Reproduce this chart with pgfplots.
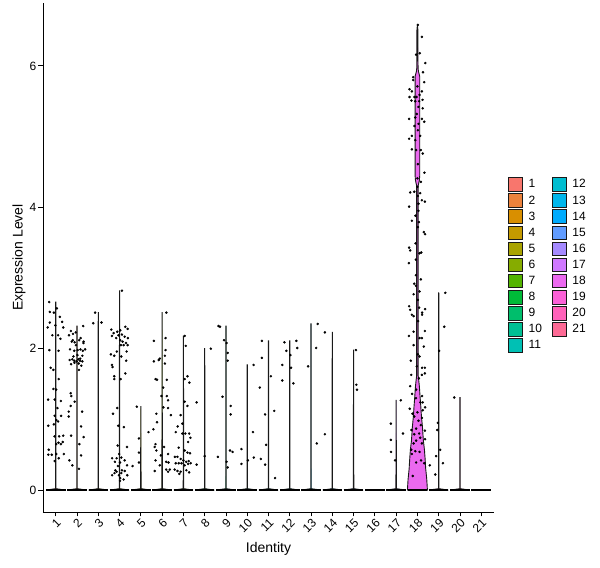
\documentclass[border=0pt]{standalone}
\usepackage{pgfplots}
\pgfplotsset{compat=1.18}
\usepackage{fontspec}
\setmainfont{Liberation Sans}
\definecolor{c1}{HTML}{F8766D}
\definecolor{c2}{HTML}{EC823C}
\definecolor{c3}{HTML}{D98F00}
\definecolor{c4}{HTML}{C49A00}
\definecolor{c5}{HTML}{A9A300}
\definecolor{c6}{HTML}{86AC00}
\definecolor{c7}{HTML}{53B400}
\definecolor{c8}{HTML}{00BA38}
\definecolor{c9}{HTML}{00BE6C}
\definecolor{c10}{HTML}{00C094}
\definecolor{c11}{HTML}{00C0B4}
\definecolor{c12}{HTML}{00BDD0}
\definecolor{c13}{HTML}{00B6EB}
\definecolor{c14}{HTML}{00ABFD}
\definecolor{c15}{HTML}{619CFF}
\definecolor{c16}{HTML}{A58AFF}
\definecolor{c17}{HTML}{CF78FF}
\definecolor{c18}{HTML}{EB69EF}
\definecolor{c19}{HTML}{FB61D7}
\definecolor{c20}{HTML}{FF62BA}
\definecolor{c21}{HTML}{FD6A95}
\begin{document}
\begin{tikzpicture}
\begin{axis}[
 name=ax,
 scale only axis,
 width=451pt, height=509pt,
 xmin=0.4, xmax=21.6, ymin=-0.31, ymax=6.89,
 axis x line*=bottom, axis y line*=left,
 axis line style={black, line width=0.9pt, -},
 xtick={1,...,21}, ytick={0,2,4,6},
 tick align=outside, major tick length=4.5pt,
 tick style={black, line width=0.9pt},
 /pgf/number format/assume math mode=true,
 ticklabel style={font=\fontsize{12}{12}\selectfont, text=black},
 xticklabel style={rotate=45, anchor=north east, inner sep=1pt},
 yticklabel style={inner sep=2pt},
 xlabel={Identity}, ylabel={Expression Level},
 label style={font=\fontsize{14}{14}\selectfont},
 xlabel style={at={(axis description cs:0.5,-0.0727)}, anchor=center},
 ylabel style={at={(axis description cs:-0.0532,0.5)}, anchor=center},
 legend columns=2,
 legend cell align=left,
 legend style={draw=none, fill=none, at={(1.031,0.658)}, anchor=north west,
   inner sep=0pt, font=\fontsize{12}{12}\selectfont, row sep=1.7pt,
   nodes={inner sep=1pt},
   /tikz/every odd column/.append style={column sep=5pt},
   /tikz/every even column/.append style={column sep=9pt}},
 legend image code/.code={\draw[#1, line width=0.8pt] (0pt,-6.8pt) rectangle (13.6pt,6.8pt);},
 violin/.style={draw=black!90, line width=0.9pt, mark=none},
]
% violins (order interleaved so that the two legend columns read 1-11 and 12-21)
\addplot[violin, fill=c1] coordinates {(0.55,0) (0.99,0.02) (0.995,2.66) (1.005,2.66) (1.01,0.02) (1.45,0) (0.55,0)};
\addlegendentry{1}
\addplot[violin, fill=c12] coordinates {(11.55,0) (11.99,0.02) (11.995,2.11) (12.005,2.11) (12.01,0.02) (12.45,0) (11.55,0)};
\addlegendentry{12}
\addplot[violin, fill=c2] coordinates {(1.55,0) (1.99,0.02) (1.995,2.32) (2.005,2.32) (2.01,0.02) (2.45,0) (1.55,0)};
\addlegendentry{2}
\addplot[violin, fill=c13] coordinates {(12.55,0) (12.99,0.02) (12.995,2.35) (13.005,2.35) (13.01,0.02) (13.45,0) (12.55,0)};
\addlegendentry{13}
\addplot[violin, fill=c3] coordinates {(2.55,0) (2.99,0.02) (2.995,2.51) (3.005,2.51) (3.01,0.02) (3.45,0) (2.55,0)};
\addlegendentry{3}
\addplot[violin, fill=c14] coordinates {(13.55,0) (13.99,0.02) (13.995,2.23) (14.005,2.23) (14.01,0.02) (14.45,0) (13.55,0)};
\addlegendentry{14}
\addplot[violin, fill=c4] coordinates {(3.55,0) (3.99,0.02) (3.995,2.82) (4.005,2.82) (4.01,0.02) (4.45,0) (3.55,0)};
\addlegendentry{4}
\addplot[violin, fill=c15] coordinates {(14.55,0) (14.99,0.02) (14.995,1.98) (15.005,1.98) (15.01,0.02) (15.45,0) (14.55,0)};
\addlegendentry{15}
\addplot[violin, fill=c5] coordinates {(4.55,0) (4.99,0.02) (4.995,1.18) (5.005,1.18) (5.01,0.02) (5.45,0) (4.55,0)};
\addlegendentry{5}
\addplot[violin, fill=c16] coordinates {(15.55,0) (16.45,0) (15.55,0)};
\addlegendentry{16}
\addplot[violin, fill=c6] coordinates {(5.55,0) (5.99,0.02) (5.995,2.51) (6.005,2.51) (6.01,0.02) (6.45,0) (5.55,0)};
\addlegendentry{6}
\addplot[violin, fill=c17] coordinates {(16.55,0) (16.99,0.02) (16.995,1.27) (17.005,1.27) (17.01,0.02) (17.45,0) (16.55,0)};
\addlegendentry{17}
\addplot[violin, fill=c7] coordinates {(6.55,0) (6.99,0.02) (6.995,2.18) (7.005,2.18) (7.01,0.02) (7.45,0) (6.55,0)};
\addlegendentry{7}
\addplot[violin, fill=c18] coordinates {(17.53,0) (17.56,0.15) (17.61,0.30) (17.64,0.45) (17.67,0.57) (17.72,0.70) (17.765,0.90) (17.81,1.04) (17.84,1.18) (17.875,1.32) (17.906,1.46) (17.94,1.56) (17.965,1.62) (17.965,4.30) (17.91,4.38) (17.89,4.45) (17.89,5.85) (17.95,5.92) (17.97,5.97) (17.975,6.50) (18.0,6.58) (18.025,6.50) (18.03,5.97) (18.05,5.92) (18.11,5.85) (18.11,4.45) (18.09,4.38) (18.035,4.30) (18.035,1.62) (18.06,1.56) (18.094,1.46) (18.125,1.32) (18.16,1.18) (18.19,1.04) (18.235,0.90) (18.28,0.70) (18.33,0.57) (18.36,0.45) (18.39,0.30) (18.44,0.15) (18.47,0) (17.53,0)};
\addlegendentry{18}
\addplot[violin, fill=c8] coordinates {(7.55,0) (7.99,0.02) (7.995,2.00) (8.005,2.00) (8.01,0.02) (8.45,0) (7.55,0)};
\addlegendentry{8}
\addplot[violin, fill=c19] coordinates {(18.55,0) (18.99,0.02) (18.995,2.79) (19.005,2.79) (19.01,0.02) (19.45,0) (18.55,0)};
\addlegendentry{19}
\addplot[violin, fill=c9] coordinates {(8.55,0) (8.99,0.02) (8.995,2.32) (9.005,2.32) (9.01,0.02) (9.45,0) (8.55,0)};
\addlegendentry{9}
\addplot[violin, fill=c20] coordinates {(19.55,0) (19.99,0.02) (19.995,1.31) (20.005,1.31) (20.01,0.02) (20.45,0) (19.55,0)};
\addlegendentry{20}
\addplot[violin, fill=c10] coordinates {(9.55,0) (9.99,0.02) (9.995,1.77) (10.005,1.77) (10.01,0.02) (10.45,0) (9.55,0)};
\addlegendentry{10}
\addplot[violin, fill=c21] coordinates {(20.55,0) (21.45,0) (20.55,0)};
\addlegendentry{21}
\addplot[violin, fill=c11] coordinates {(10.55,0) (10.99,0.02) (10.995,2.11) (11.005,2.11) (11.01,0.02) (11.45,0) (10.55,0)};
\addlegendentry{11}
% dense zero values (jittered points at 0)
\addplot[black, line width=2.3pt, forget plot, unbounded coords=jump, mark=none] coordinates {
(0.54,0) (1.46,0) (1.5,nan) (1.54,0) (2.46,0) (2.5,nan) (2.54,0) (3.46,0) (3.5,nan)
(3.54,0) (4.46,0) (4.5,nan) (4.54,0) (5.46,0) (5.5,nan) (5.54,0) (6.46,0) (6.5,nan)
(6.54,0) (7.46,0) (7.5,nan) (7.54,0) (8.46,0) (8.5,nan) (8.54,0) (9.46,0) (9.5,nan)
(9.54,0) (10.46,0) (10.5,nan) (10.54,0) (11.46,0) (11.5,nan) (11.54,0) (12.46,0) (12.5,nan)
(12.54,0) (13.46,0) (13.5,nan) (13.54,0) (14.46,0) (14.5,nan) (14.54,0) (15.46,0) (15.5,nan)
(15.54,0) (16.46,0) (16.5,nan) (16.54,0) (17.46,0) (17.5,nan) (17.54,0) (18.46,0) (18.5,nan)
(18.54,0) (19.46,0) (19.5,nan) (19.54,0) (20.46,0) (20.5,nan) (20.54,0) (21.46,0)};
% non-zero cells
\addplot[only marks, mark=*, mark size=1.05pt, black, forget plot] table {
x y
0.69 2.66
0.72 2.52
0.91 2.51
1.05 2.57
1.19 2.45
1.30 2.38
0.72 2.37
0.98 2.33
0.62 2.30
1.35 2.30
0.84 2.19
1.11 2.19
1.22 2.14
0.70 1.98
1.13 1.97
0.76 1.73
0.89 1.70
1.14 1.57
0.89 1.43
1.02 1.42
0.64 1.28
0.95 1.28
1.24 1.26
1.08 1.16
0.95 1.05
1.25 1.05
1.03 0.99
1.11 0.97
0.65 0.91
0.91 0.93
0.94 0.76
1.16 0.76
1.35 0.77
1.02 0.65
1.13 0.67
1.24 0.65
1.33 0.68
0.67 0.57
0.65 0.50
0.81 0.50
1.02 0.51
1.38 0.51
0.95 0.41
1.14 0.45
1.62 2.19
1.81 2.21
1.94 2.23
2.17 2.15
2.31 2.10
1.75 2.10
1.89 2.09
1.67 1.99
1.87 1.97
2.03 1.98
2.16 1.99
2.27 1.97
2.38 1.99
1.83 1.89
2.02 1.91
1.65 1.84
1.78 1.85
1.87 1.83
1.98 1.82
2.06 1.85
2.14 1.83
2.25 1.82
2.20 1.76
2.09 1.70
1.70 1.37
1.73 1.33
1.89 1.25
1.70 1.19
1.61 1.11
2.24 1.11
1.61 1.04
2.19 0.90
1.72 0.77
2.31 0.75
2.11 0.65
1.64 0.42
2.19 0.49
2.09 0.30
1.78 0.35
1.88 1.80
2.08 1.79
2.15 1.86
1.72 1.78
2.25 1.90
1.95 2.05
2.30 2.08
1.80 2.12
2.10 2.12
2.29 2.32
1.71 2.25
2.76 2.36
2.85 2.51
3.15 2.37
4.11 2.82
3.61 2.27
3.89 2.24
4.03 2.26
4.27 2.31
4.38 2.28
3.72 2.22
3.95 2.19
4.11 2.20
4.24 2.17
4.39 2.15
3.64 2.18
3.84 2.15
4.03 2.12
4.14 2.10
4.30 2.08
4.06 2.05
4.19 2.05
4.38 2.05
4.33 1.96
3.87 1.96
3.59 1.92
3.75 1.90
4.08 1.89
4.31 1.83
3.64 1.77
3.67 1.74
3.75 1.61
3.75 1.57
4.05 1.57
4.27 1.65
3.89 1.16
3.69 1.08
3.94 0.91
4.20 0.89
3.91 0.63
4.35 0.61
3.98 0.51
3.86 0.45
3.65 0.45
4.08 0.46
4.24 0.42
3.78 0.40
4.02 0.39
4.35 0.35
3.92 0.34
3.80 0.28
4.11 0.28
4.24 0.27
3.76 0.24
4.08 0.24
3.97 0.21
4.36 0.21
4.03 0.17
4.19 0.15
4.02 0.13
3.65 0.21
3.86 0.26
4.81 1.18
4.91 0.73
4.91 0.53
4.91 0.39
4.61 0.34
5.36 0.82
6.20 2.51
5.61 2.11
6.16 2.15
5.84 1.84
5.89 1.86
5.61 1.82
6.16 1.98
6.13 1.90
6.13 1.79
5.69 1.57
5.76 1.56
6.22 1.56
6.05 1.45
5.97 1.33
6.22 1.33
6.28 1.27
6.06 1.17
6.28 1.16
5.73 1.08
6.41 1.06
5.76 0.96
5.59 0.86
5.69 0.65
5.65 0.61
6.09 0.61
5.73 0.56
5.94 0.49
6.28 0.51
5.69 0.42
6.19 0.40
6.30 0.39
5.89 0.35
5.65 0.27
6.19 0.29
6.28 0.26
6.36 0.29
7.06 2.18
7.11 2.04
7.06 1.57
7.19 1.61
7.28 1.52
7.06 1.25
7.19 1.19
6.87 1.06
6.95 0.94
6.73 0.90
6.95 0.80
7.09 0.80
7.27 0.80
7.33 0.74
6.64 0.82
7.22 0.68
6.78 0.60
6.60 0.47
6.72 0.47
7.06 0.56
7.19 0.53
7.31 0.52
6.87 0.44
7.00 0.42
7.13 0.40
7.25 0.41
6.64 0.38
6.78 0.38
6.91 0.38
7.06 0.35
7.22 0.37
7.34 0.38
6.59 0.29
6.72 0.27
6.87 0.26
7.14 0.28
7.27 0.25
6.81 0.23
8.29 2.00
8.00 0.48
7.62 1.24
7.62 0.36
8.65 2.32
8.72 2.31
8.91 2.12
9.03 2.08
9.08 1.94
9.08 1.83
8.84 1.32
9.22 1.19
9.22 1.07
9.19 0.56
9.31 0.54
8.62 0.47
9.03 0.40
9.08 0.32
9.73 0.58
9.73 0.37
10.03 0.42
10.27 0.82
10.30 1.77
10.31 0.46
10.69 2.11
10.69 1.87
10.59 1.45
11.11 1.61
10.84 1.07
11.27 1.12
10.89 0.64
10.64 0.44
10.84 0.36
11.31 0.17
11.75 2.09
12.31 2.11
11.84 1.97
12.35 2.01
12.03 1.91
11.65 1.77
12.06 1.73
11.65 1.55
12.17 1.51
13.31 2.35
13.24 2.01
12.86 1.75
13.27 0.66
13.65 2.23
13.65 0.79
15.11 1.98
15.13 1.49
15.16 1.42
17.22 1.27
16.75 0.94
16.75 0.71
16.76 0.54
16.95 0.42
17.32 0.80
18.02 6.58
18.21 6.41
17.94 6.16
18.11 6.18
18.37 6.04
18.26 5.91
17.80 5.84
17.80 5.80
18.32 5.77
18.00 5.71
18.21 5.64
17.63 5.67
17.74 5.64
18.10 5.59
17.86 5.56
17.96 5.56
17.63 5.56
17.72 5.51
17.90 5.50
18.08 5.50
18.24 5.52
18.05 5.42
18.25 5.40
17.97 5.32
17.61 5.25
17.90 5.27
18.21 5.25
18.32 5.21
18.05 5.18
17.86 5.15
18.02 5.09
17.74 5.01
17.61 4.97
18.13 5.01
17.90 4.95
17.74 4.82
17.94 4.81
18.16 4.81
18.25 4.76
18.02 4.61
18.33 4.49
18.00 4.41
18.16 4.36
18.00 4.29
17.66 4.21
17.85 4.22
18.13 4.20
18.02 4.16
18.21 4.10
18.35 4.08
18.05 4.05
17.61 4.01
18.05 3.95
17.91 3.88
17.74 3.81
18.07 3.79
18.02 3.72
18.30 3.65
18.36 3.62
17.91 3.49
17.61 3.43
17.66 3.39
18.10 3.35
18.18 3.36
17.60 3.21
17.93 3.26
17.93 3.04
18.16 2.98
17.85 2.92
17.93 2.89
18.10 2.81
17.82 2.77
18.02 2.69
17.61 2.60
17.66 2.55
17.74 2.48
17.82 2.46
18.08 2.58
18.22 2.51
18.22 2.48
18.36 2.56
18.03 2.39
17.82 2.24
18.35 2.25
17.60 2.18
18.10 2.15
18.21 2.15
17.82 2.05
18.30 2.03
18.02 1.92
18.10 1.89
17.69 1.83
17.97 1.75
18.22 1.73
18.35 1.73
18.35 1.65
18.21 1.63
17.71 1.63
18.07 1.58
17.66 1.47
17.94 1.42
18.22 1.33
17.75 1.36
17.93 1.30
18.14 1.24
18.25 1.24
18.36 1.17
18.25 1.13
17.64 1.15
18.00 1.10
17.77 1.08
17.85 1.04
18.21 1.02
18.05 0.98
17.72 0.85
17.94 0.87
18.16 0.92
17.85 0.79
18.08 0.80
18.35 0.84
18.36 0.72
18.13 0.74
17.94 0.70
17.82 0.66
18.21 0.66
17.71 0.57
17.90 0.55
18.10 0.54
17.74 0.51
18.17 0.42
17.94 0.39
18.32 0.38
17.78 0.20
19.31 2.79
19.26 2.31
19.02 1.97
18.96 0.95
18.93 0.85
19.07 0.57
18.88 0.48
19.20 0.38
18.58 0.35
18.84 0.22
19.73 1.31
};
\end{axis}
\pgfresetboundingbox
\path[use as bounding box] ([shift={(-43pt,-56pt)}]ax.south west) rectangle ([shift={(106pt,3pt)}]ax.north east);
\end{tikzpicture}
\end{document}
